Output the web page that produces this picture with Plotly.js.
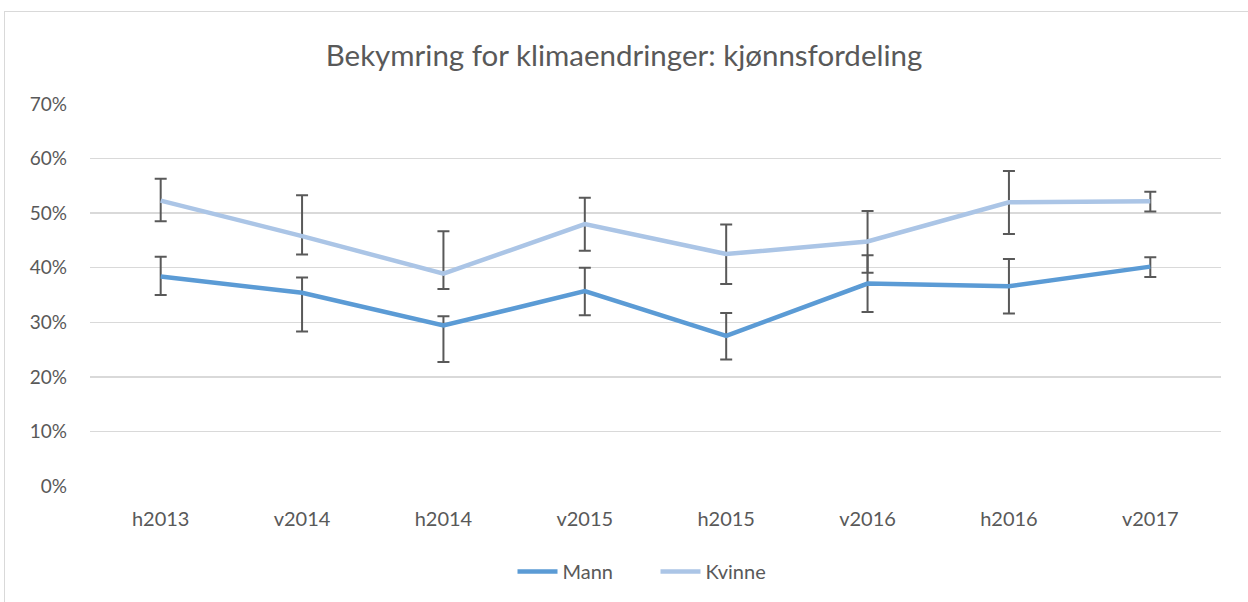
<!DOCTYPE html>
<html>
<head>
<meta charset="utf-8">
<script src="https://cdn.plot.ly/plotly-3.0.1.min.js"></script>
<style>
  html, body { margin: 0; padding: 0; background: #ffffff; }
  #frame { position: absolute; left: 4px; top: 11px; width: 1260px; height: 620px; border: 1px solid #d9d9d9; box-sizing: border-box; }
  #chart { position: absolute; left: 0; top: 0; width: 1248px; height: 602px; }
</style>
</head>
<body>
<div id="frame"></div>
<div id="chart"></div>
<script>
const categories = ["h2013", "v2014", "h2014", "v2015", "h2015", "v2016", "h2016", "v2017"];

const mannValues   = [0.384, 0.354, 0.294, 0.357, 0.275, 0.371, 0.366, 0.402];
const mannUpper    = [0.420, 0.382, 0.311, 0.400, 0.317, 0.423, 0.416, 0.419];
const mannLower    = [0.350, 0.283, 0.227, 0.313, 0.232, 0.319, 0.316, 0.383];

const kvinneValues = [0.523, 0.458, 0.389, 0.480, 0.425, 0.448, 0.520, 0.522];
const kvinneUpper  = [0.563, 0.533, 0.467, 0.528, 0.479, 0.504, 0.577, 0.539];
const kvinneLower  = [0.485, 0.424, 0.361, 0.431, 0.370, 0.391, 0.462, 0.503];

const yTickVals = [0, 0.1, 0.2, 0.3, 0.4, 0.5, 0.6, 0.7];
const yTickText = ["0%", "10%", "20%", "30%", "40%", "50%", "60%", "70%"];

function plus(vals, up) { return vals.map((v, i) => up[i] - v); }
function minus(vals, lo) { return vals.map((v, i) => v - lo[i]); }

const errStyle = { type: "data", symmetric: false, color: "#595959", thickness: 2, width: 6 };

const traces = [
  {
    name: "Mann", x: categories, y: mannValues, type: "scatter", mode: "lines",
    line: { color: "#5B9BD5", width: 4.5 },
    error_y: Object.assign({ array: plus(mannValues, mannUpper), arrayminus: minus(mannValues, mannLower) }, errStyle)
  },
  {
    name: "Kvinne", x: categories, y: kvinneValues, type: "scatter", mode: "lines",
    line: { color: "#ABC5E6", width: 4.5 },
    error_y: Object.assign({ array: plus(kvinneValues, kvinneUpper), arrayminus: minus(kvinneValues, kvinneLower) }, errStyle)
  }
];

const layout = {
  width: 1248, height: 602,
  paper_bgcolor: "rgba(0,0,0,0)", plot_bgcolor: "rgba(0,0,0,0)",
  margin: { l: 90, r: 27, t: 104, b: 115 },
  font: { family: "Lato, 'Open Sans', sans-serif", color: "#595959", size: 19 },
  title: {
    text: "Bekymring for klimaendringer: kjønnsfordeling",
    font: { family: "Lato, 'Open Sans', sans-serif", size: 29.5, color: "#595959" },
    x: 0.5, xanchor: "center", y: 0.908, yanchor: "middle"
  },
  xaxis: {
    type: "category", range: [-0.5, 7.5], showgrid: false, showline: false, zeroline: false,
    ticks: "", ticklabelstandoff: 19,
    tickfont: { size: 20, color: "#595959" }
  },
  yaxis: {
    range: [0, 0.7], tickvals: yTickVals, ticktext: yTickText,
    showgrid: true, gridcolor: "#d9d9d9", gridwidth: 1.3,
    zeroline: false, showline: false, ticks: "", ticklabelstandoff: 22,
    tickfont: { size: 19, color: "#595959" }
  },
  showlegend: true,
  legend: {
    orientation: "h", x: 0.5, xanchor: "center", y: -0.17, yanchor: "top",
    font: { size: 20, color: "#595959" }, itemwidth: 40, traceorder: "normal",
    entrywidth: 88, entrywidthmode: "pixels"
  }
};

Plotly.newPlot("chart", traces, layout, { displayModeBar: false, staticPlot: true });
</script>
</body>
</html>
